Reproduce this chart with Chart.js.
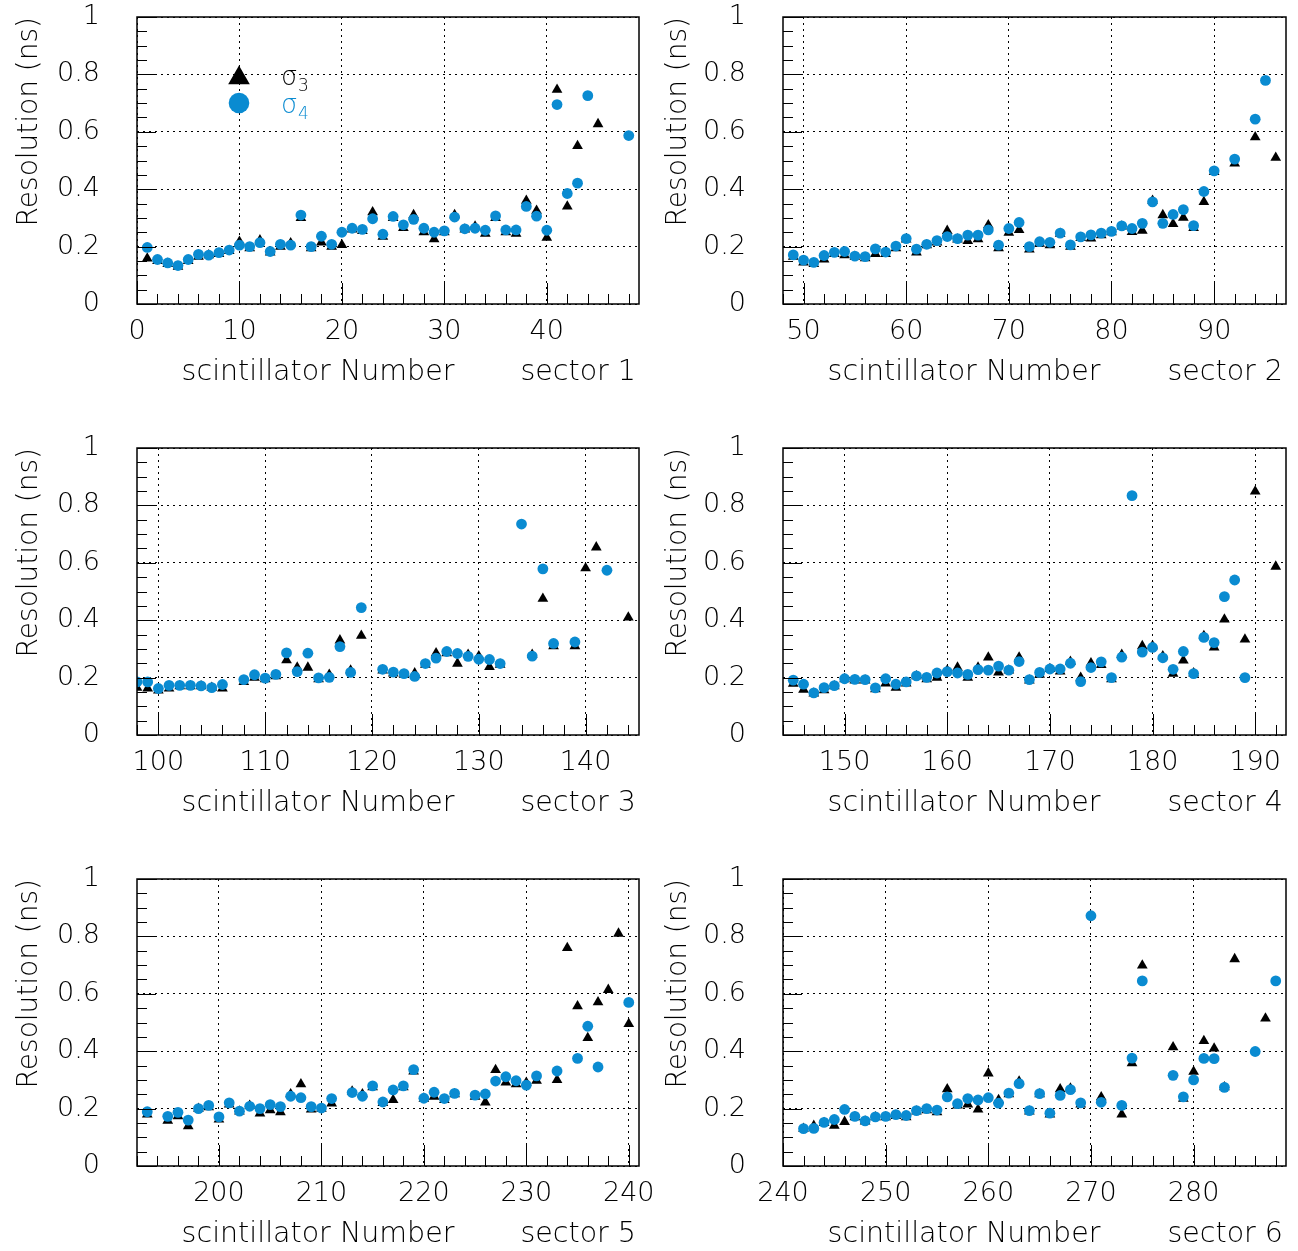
<!DOCTYPE html>
<html>
<head>
<meta charset="utf-8">
<title>Time resolution per scintillator</title>
<script src="https://cdn.jsdelivr.net/npm/chart.js@4.4.1/dist/chart.umd.min.js"></script>
<style>
  html, body { margin: 0; padding: 0; background: #fff; }
  #page { position: relative; width: 1298px; height: 1251px; overflow: hidden; }
  #page canvas { position: absolute; }
</style>
</head>
<body>
<div id="page">
  <canvas id="sector1" width="690" height="430" style="left:0;top:0"></canvas>
  <canvas id="sector2" width="649" height="430" style="left:649px;top:0"></canvas>
  <canvas id="sector3" width="690" height="431" style="left:0;top:430px"></canvas>
  <canvas id="sector4" width="649" height="431" style="left:649px;top:430px"></canvas>
  <canvas id="sector5" width="690" height="390" style="left:0;top:861px"></canvas>
  <canvas id="sector6" width="649" height="390" style="left:649px;top:861px"></canvas>
</div>
<script>
// axis ranges and first scintillator of each sector
const sectorLabels = ['sector 1', 'sector 2', 'sector 3', 'sector 4', 'sector 5', 'sector 6'];
const axisMin = [0, 48, 98, 144, 192, 240];
const axisMax = [49, 97, 145, 193, 241, 289];
const firstScint = [1, 49, 98, 145, 193, 242];

// sigma_3 / sigma_4 resolution (ns), one entry per scintillator, null = no fit
const sigma3S1 = [0.159, 0.15, 0.14, 0.13, 0.15, 0.165, 0.17, 0.175, 0.185, 0.217,
  0.195, 0.222, 0.18, 0.2, 0.212, 0.3, 0.195, 0.215, 0.2, 0.206,
  0.26, 0.255, 0.32, 0.235, 0.3, 0.265, 0.31, 0.25, 0.226, 0.25,
  0.31, 0.26, 0.27, 0.245, 0.3, 0.25, 0.245, 0.36, 0.325, 0.231,
  0.747, 0.34, 0.551, null, 0.627, null, null, null];
const sigma4S1 = [0.197, 0.155, 0.143, 0.134, 0.155, 0.173, 0.17, 0.179, 0.188, 0.205,
  0.2, 0.214, 0.183, 0.208, 0.205, 0.31, 0.2, 0.236, 0.208, 0.25,
  0.264, 0.26, 0.297, 0.243, 0.305, 0.276, 0.295, 0.264, 0.25, 0.255,
  0.303, 0.262, 0.264, 0.257, 0.307, 0.258, 0.258, 0.34, 0.306, 0.257,
  0.695, 0.385, 0.421, 0.726, null, null, null, 0.587];

const sigma3S2 = [0.165, 0.145, 0.14, 0.155, 0.175, 0.17, 0.165, 0.16, 0.175, 0.175,
  0.195, 0.225, 0.18, 0.205, 0.215, 0.255, 0.225, 0.22, 0.226, 0.275,
  0.195, 0.249, 0.258, 0.19, 0.21, 0.205, 0.245, 0.2, 0.23, 0.229,
  0.24, 0.25, 0.27, 0.251, 0.256, 0.36, 0.31, 0.279, 0.301, 0.265,
  0.356, 0.46, null, 0.49, null, 0.581, null, 0.51];
const sigma4S2 = [0.171, 0.153, 0.145, 0.169, 0.18, 0.183, 0.167, 0.165, 0.192, 0.181,
  0.202, 0.228, 0.191, 0.208, 0.221, 0.235, 0.228, 0.24, 0.24, 0.258,
  0.205, 0.263, 0.284, 0.2, 0.217, 0.215, 0.247, 0.206, 0.234, 0.241,
  0.247, 0.253, 0.272, 0.263, 0.281, 0.356, 0.281, 0.312, 0.329, 0.273,
  0.392, 0.464, null, 0.505, null, 0.644, 0.779, null];

const sigma3S3 = [0.165, 0.162, 0.155, 0.162, 0.17, 0.17, 0.17, 0.165, 0.162, null,
  0.185, 0.2, 0.195, 0.205, 0.261, 0.235, 0.235, 0.195, 0.21, 0.33,
  0.225, 0.346, null, 0.225, 0.215, 0.21, 0.215, 0.245, 0.285, 0.285,
  0.249, 0.28, 0.275, 0.237, 0.245, null, null, 0.28, 0.475, 0.31,
  null, 0.31, 0.581, 0.654, null, null, 0.41];
const sigma4S3 = [0.185, 0.185, 0.162, 0.173, 0.173, 0.173, 0.171, 0.165, 0.176, null,
  0.193, 0.21, 0.198, 0.211, 0.286, 0.221, 0.285, 0.199, 0.201, 0.308,
  0.218, 0.444, null, 0.229, 0.219, 0.214, 0.204, 0.249, 0.268, 0.291,
  0.284, 0.274, 0.264, 0.263, 0.249, null, 0.735, 0.275, 0.579, 0.319,
  null, 0.324, null, null, 0.574, null, null];

const sigma3S4 = [0.179, 0.158, 0.145, 0.156, 0.17, 0.195, 0.19, 0.19, 0.16, 0.18,
  0.165, 0.18, 0.205, 0.195, 0.2, 0.225, 0.235, 0.2, 0.235, 0.27,
  0.218, 0.225, 0.27, 0.19, 0.21, 0.23, 0.222, 0.255, 0.2, 0.25,
  0.244, 0.195, 0.28, null, 0.31, 0.31, 0.275, 0.214, 0.26, 0.215,
  0.345, 0.305, 0.403, null, 0.333, 0.849, null, 0.587];
const sigma4S4 = [0.191, 0.177, 0.147, 0.165, 0.172, 0.196, 0.194, 0.193, 0.164, 0.196,
  0.177, 0.185, 0.206, 0.201, 0.216, 0.221, 0.216, 0.211, 0.228, 0.226,
  0.24, 0.226, 0.256, 0.193, 0.218, 0.23, 0.23, 0.25, 0.186, 0.235,
  0.255, 0.2, 0.271, 0.834, 0.289, 0.305, 0.269, 0.229, 0.291, 0.214,
  0.34, 0.322, 0.482, 0.54, 0.2, null, null, null];

const sigma3S5 = [0.18, null, 0.158, 0.174, 0.139, 0.2, 0.205, 0.162, 0.215, 0.19,
  0.21, 0.183, 0.195, 0.188, 0.25, 0.285, 0.197, 0.2, 0.218, null,
  0.26, 0.25, 0.275, 0.22, 0.23, 0.275, 0.33, 0.235, 0.242, 0.23,
  0.25, null, 0.242, 0.222, 0.335, 0.291, 0.285, 0.29, 0.297, null,
  0.3, 0.76, 0.557, 0.446, 0.571, 0.614, 0.81, 0.495];
const sigma4S5 = [0.189, null, 0.173, 0.187, 0.16, 0.2, 0.211, 0.171, 0.22, 0.191,
  0.208, 0.2, 0.214, 0.207, 0.243, 0.238, 0.207, 0.202, 0.235, null,
  0.256, 0.243, 0.279, 0.223, 0.265, 0.279, 0.336, 0.236, 0.257, 0.235,
  0.253, null, 0.247, 0.251, 0.296, 0.311, 0.297, 0.282, 0.314, null,
  0.331, null, 0.375, 0.487, 0.345, null, null, 0.57];

const sigma3S6 = [0.13, 0.14, 0.15, 0.141, 0.154, 0.17, 0.155, 0.17, 0.17, 0.175,
  0.17, 0.19, 0.195, 0.188, 0.268, 0.211, 0.215, 0.197, 0.323, 0.23,
  0.25, 0.295, 0.19, 0.25, 0.18, 0.268, 0.27, 0.215, null, 0.24,
  null, 0.18, 0.358, 0.699, null, null, 0.414, 0.235, 0.329, 0.436,
  0.41, 0.275, 0.721, null, null, 0.514, null];
const sigma4S6 = [0.13, 0.131, 0.152, 0.162, 0.197, 0.173, 0.157, 0.171, 0.173, 0.179,
  0.176, 0.193, 0.2, 0.195, 0.241, 0.217, 0.235, 0.23, 0.238, 0.219,
  0.254, 0.287, 0.193, 0.252, 0.184, 0.246, 0.266, 0.22, 0.872, 0.222,
  null, 0.211, 0.376, 0.645, null, null, 0.316, 0.241, 0.3, 0.375,
  0.374, 0.274, null, null, 0.399, null, 0.645];

const sigma3Sets = [sigma3S1, sigma3S2, sigma3S3, sigma3S4, sigma3S5, sigma3S6];
const sigma4Sets = [sigma4S1, sigma4S2, sigma4S3, sigma4S4, sigma4S5, sigma4S6];

const BLUE = '#0a8bd1';
const TICK_FONT = { family: '"DejaVu Sans", sans-serif', size: 27, weight: '200' };
const TITLE_FONT = { family: '"DejaVu Sans", sans-serif', size: 28, weight: '200' };
const TITLE_CSS = '200 28.5px "DejaVu Sans", sans-serif';

// plot-area offsets inside each canvas: left (y axis width), top, right padding, x axis height
// (left-column canvases are wider so the last x label can run past the column edge)
const frames = [
  { left: 137, top: 17, right: 51, axisH: 126 },
  { left: 134, top: 17, right: 12, axisH: 126 },
  { left: 137, top: 18, right: 51, axisH: 126 },
  { left: 134, top: 18, right: 12, axisH: 126 },
  { left: 137, top: 18, right: 51, axisH: 85 },
  { left: 134, top: 18, right: 12, axisH: 85 }
];

function toPoints(first, values) {
  const pts = [];
  values.forEach((v, i) => {
    if (v !== null) pts.push({ x: first + i, y: v });
  });
  return pts;
}

function triangle(ctx, x, y, r) {
  ctx.beginPath();
  ctx.moveTo(x, y - r);
  ctx.lineTo(x + r * 0.866, y + r * 0.5);
  ctx.lineTo(x - r * 0.866, y + r * 0.5);
  ctx.closePath();
  ctx.fill();
}

// frame, inward tick marks, x title and the sigma legend
const framePlugin = {
  id: 'frame',
  afterDraw(chart, args, opts) {
    const { ctx, chartArea: a, scales: { x, y } } = chart;
    ctx.save();
    ctx.strokeStyle = '#000';
    ctx.lineWidth = 1;
    for (let v = Math.ceil(x.min / 2) * 2; v <= x.max; v += 2) {
      const px = Math.round(x.getPixelForValue(v)) + 0.5;
      const len = v % 10 === 0 ? 21 : 10;
      ctx.beginPath();
      ctx.moveTo(px, a.bottom);
      ctx.lineTo(px, a.bottom - len);
      ctx.stroke();
    }
    for (let k = 0; k <= 20; k++) {
      const py = Math.round(y.getPixelForValue(k * 0.05)) + 0.5;
      const len = k % 4 === 0 ? 19 : 10;
      ctx.beginPath();
      ctx.moveTo(a.left, py);
      ctx.lineTo(a.left + len, py);
      ctx.stroke();
    }
    ctx.lineWidth = 1.5;
    ctx.strokeRect(a.left, a.top, a.right - a.left, a.bottom - a.top);

    ctx.fillStyle = '#000';
    ctx.font = TITLE_CSS;
    ctx.textBaseline = 'middle';
    ctx.textAlign = 'center';
    ctx.fillText('scintillator Number', a.left + 181, a.bottom + 69);
    ctx.textAlign = 'right';
    ctx.fillText(opts.sector, a.right - 3, a.bottom + 69);

    if (opts.legend) {
      const lx = a.left + 102;
      ctx.fillStyle = '#000';
      triangle(ctx, lx, a.top + 61, 12.5);
      ctx.fillStyle = BLUE;
      ctx.beginPath();
      ctx.arc(lx, a.top + 86, 10.3, 0, Math.PI * 2);
      ctx.fill();

      ctx.textAlign = 'left';
      ctx.textBaseline = 'alphabetic';
      ctx.fillStyle = '#000';
      ctx.font = '200 26px "DejaVu Sans", sans-serif';
      ctx.fillText('σ', a.left + 144, a.top + 68);
      ctx.font = '200 17px "DejaVu Sans", sans-serif';
      ctx.fillText('3', a.left + 161, a.top + 74);
      ctx.fillStyle = BLUE;
      ctx.font = '200 26px "DejaVu Sans", sans-serif';
      ctx.fillText('σ', a.left + 144, a.top + 96);
      ctx.font = '200 17px "DejaVu Sans", sans-serif';
      ctx.fillText('4', a.left + 161, a.top + 102);
    }
    ctx.restore();
  }
};

function drawSector(i) {
  const f = frames[i];
  new Chart(document.getElementById('sector' + (i + 1)), {
    type: 'scatter',
    data: {
      datasets: [{
        label: 'σ3',
        data: toPoints(firstScint[i], sigma3Sets[i]),
        pointStyle: 'triangle',
        pointRadius: 6.2,
        backgroundColor: '#000',
        borderWidth: 0,
        clip: 0,
        order: 1
      }, {
        label: 'σ4',
        data: toPoints(firstScint[i], sigma4Sets[i]),
        pointStyle: 'circle',
        pointRadius: 5.4,
        backgroundColor: BLUE,
        borderWidth: 0,
        clip: 0,
        order: 0
      }]
    },
    options: {
      responsive: false,
      animation: false,
      events: [],
      layout: { padding: { top: f.top, right: f.right, left: 0, bottom: 0 } },
      plugins: {
        legend: { display: false },
        tooltip: { enabled: false },
        frame: { sector: sectorLabels[i], legend: i === 0 }
      },
      scales: {
        x: {
          type: 'linear',
          min: axisMin[i],
          max: axisMax[i],
          // labelled ticks at every multiple of 10 inside the range
          afterBuildTicks: s => {
            const t = [];
            for (let v = Math.ceil(s.min / 10) * 10; v <= s.max; v += 10) t.push({ value: v });
            s.ticks = t;
          },
          afterFit: s => { s.height = f.axisH; s.paddingLeft = 0; s.paddingRight = 0; },
          ticks: { autoSkip: false, maxRotation: 0, padding: 12, color: '#000', font: TICK_FONT },
          grid: { color: '#000', lineWidth: 1, drawTicks: false },
          border: { display: false, dash: [2, 4] }
        },
        y: {
          min: 0,
          max: 1,
          afterFit: s => { s.width = f.left; s.paddingTop = 0; s.paddingBottom = 0; },
          ticks: {
            stepSize: 0.2,
            padding: 37,
            color: '#000',
            font: TICK_FONT,
            callback: v => String(Math.round(v * 10) / 10)
          },
          title: {
            display: true,
            text: 'Resolution (ns)',
            align: 'end',
            color: '#000',
            font: TITLE_FONT,
            padding: { top: 13, bottom: 0 }
          },
          grid: { color: '#000', lineWidth: 1, drawTicks: false },
          border: { display: false, dash: [2, 4] }
        }
      }
    },
    plugins: [framePlugin]
  });
}

for (let i = 0; i < 6; i++) drawSector(i);
</script>
</body>
</html>
